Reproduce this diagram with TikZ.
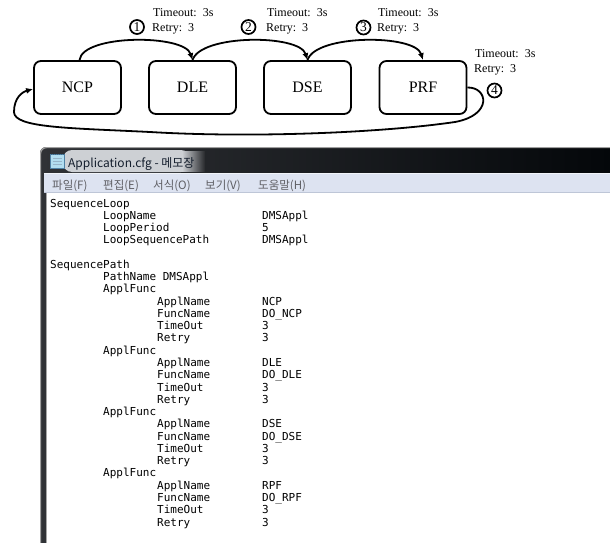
\documentclass[tikz,border=0pt]{standalone}
\usepackage{fontspec}
\setmainfont{Liberation Serif}
\newfontfamily\cfgfont{DejaVu Sans Mono}
\newfontfamily\krfont{Noto Sans CJK KR}
\usetikzlibrary{arrows.meta}
\definecolor{menubg}{RGB}{221,227,241}
\definecolor{menuline}{RGB}{190,198,215}
\definecolor{menutxt}{RGB}{95,95,100}
\definecolor{glowc}{RGB}{205,208,212}
\definecolor{titletxt}{RGB}{20,30,45}
\definecolor{iconblue}{RGB}{178,222,240}
\definecolor{iconedge}{RGB}{80,130,165}
\definecolor{barleft}{RGB}{48,50,54}
\definecolor{barright}{RGB}{4,7,10}
\begin{document}
\begin{tikzpicture}[x=1pt,y=-1pt,
  proc/.style={draw, line width=1.8pt, rounded corners=7pt, minimum width=87pt, minimum height=53pt, inner sep=0pt, font=\fontsize{16}{18}\selectfont},
  flow/.style={line width=1.8pt, -{Latex[length=7pt,width=6pt]}},
  num/.style={circle, draw, line width=1.7pt, inner sep=0pt, minimum size=14pt, font=\fontsize{13.5}{13.5}\selectfont},
  lbl/.style={anchor=base west, inner sep=0pt, font=\fontsize{12}{14}\selectfont},
  cfg/.style={anchor=base west, inner sep=0pt, font=\cfgfont\fontsize{11}{12}\selectfont},
  menu/.style={anchor=base west, inner sep=0pt, text=menutxt, font=\krfont\fontsize{11.5}{13}\selectfont}]
\useasboundingbox (0,0) rectangle (610,543);

% ---------- top diagram ----------
\node[proc] (ncp) at (77.5,87.5) {NCP};
\node[proc] (dle) at (192.5,87.5) {DLE};
\node[proc] (dse) at (307.5,87.5) {DSE};
\node[proc] (prf) at (423,87.5) {PRF};

\draw[flow] ([xshift=2pt]ncp.north) .. controls +(3,-26) and +(-8,-26) .. (dle.north);
\draw[flow] (dle.north) .. controls +(8,-26) and +(-8,-26) .. (dse.north);
\draw[flow] (dse.north) .. controls +(8,-26) and +(-8,-26) .. (prf.north);
\draw[flow] (prf.east) .. controls (488,87) and (493,115) .. (455,122)
  .. controls (380,133) and (250,138) .. (150,132)
  .. controls (70,128) and (14,128) .. (14,112)
  .. controls (14,98) and (22,92) .. ([yshift=-1.5pt]ncp.west);

\node[num] (n1) at (137,27) {1};
\node[num] (n2) at (248.5,27) {2};
\node[num] (n3) at (363.5,27.5) {3};
\node[num] (n4) at (494.5,90.5) {4};

\node[lbl] (t1) at (153,16.5) {Timeout:\ \ 3s};
\node[lbl] (r1) at (152,32) {Retry:\ \ 3};
\node[lbl] (t2) at (267,16.5) {Timeout:\ \ 3s};
\node[lbl] (r2) at (266,32) {Retry:\ \ 3};
\node[lbl] (t3) at (378,16.5) {Timeout:\ \ 3s};
\node[lbl] (r3) at (377,32) {Retry:\ \ 3};
\node[lbl] (t4) at (475,57.5) {Timeout:\ \ 3s};
\node[lbl] (r4) at (474,73) {Retry:\ \ 3};

% ---------- notepad window ----------
\shade[left color=barleft, right color=barright]
  (40,543) [rounded corners=6pt] -- (40,147) [sharp corners] -- (610,147) -- (610,543) -- cycle;
\draw[gray!75, line width=1.2pt] (40.6,543) [rounded corners=6pt] -- (40.6,147.6) [sharp corners] -- (610,147.6);
\fill[glowc, rounded corners=9pt] (63,150) rectangle (190,172);
\shade[left color=glowc, right color=barleft!80!black] (182,151) rectangle (205,171);
% icon
\fill[iconblue] (50.5,154) rectangle (64,168);
\draw[iconedge, line width=0.6pt] (50.5,154) rectangle (64,168);
\draw[iconedge!80!black, line width=1.4pt, dash pattern=on 1pt off 1pt] (51,154.5) -- (64,154.5);
\foreach \yy in {158,161,164} \draw[iconedge!60, line width=0.4pt] (52.5,\yy) -- (62,\yy);
\node[anchor=base west, inner sep=0pt, text=titletxt, font=\krfont\fontsize{12}{14}\selectfont] (title) at (68,167) {Application.cfg - 메모장};

% menu bar
\fill[menubg] (44,173) rectangle (610,193);
\draw[white!60!menubg, line width=1pt] (44,173.5) -- (610,173.5);
\draw[menuline, line width=1pt] (44,192.8) -- (610,192.8);
\node[menu] (m1) at (52,189) {파일(F)};
\node[menu] (m2) at (103,189) {편집(E)};
\node[menu] (m3) at (153,189) {서식(O)};
\node[menu] (m4) at (205,189) {보기(V)};
\node[menu] (m5) at (258,189) {도움말(H)};

% content area
\fill[white] (47,193.3) rectangle (610,543);
\draw[gray!70, line width=0.8pt] (46.6,193.3) -- (46.6,543);

\foreach \i/\d/\k in {0/0/SequenceLoop, 1/53/LoopName, 2/53/LoopPeriod, 3/53/LoopSequencePath,
  5/0/SequencePath, 6/53/PathName DMSAppl,
  7/53/ApplFunc, 8/107/ApplName, 9/107/FuncName, 10/107/TimeOut, 11/107/Retry,
  12/53/ApplFunc, 13/107/ApplName, 14/107/FuncName, 15/107/TimeOut, 16/107/Retry,
  17/53/ApplFunc, 18/107/ApplName, 19/107/FuncName, 20/107/TimeOut, 21/107/Retry,
  22/53/ApplFunc, 23/107/ApplName, 24/107/FuncName, 25/107/TimeOut, 26/107/Retry}
  \node[cfg] (k\i) at ({50+\d},{207+12.27*\i}) {\k};

\foreach \i/\v in {1/DMSAppl, 2/5, 3/DMSAppl,
  8/NCP, 9/DO\_NCP, 10/3, 11/3,
  13/DLE, 14/DO\_DLE, 15/3, 16/3,
  18/DSE, 19/DO\_DSE, 20/3, 21/3,
  23/RPF, 24/DO\_RPF, 25/3, 26/3}
  \node[cfg] (v\i) at ({262},{207+12.27*\i}) {\v};
\end{tikzpicture}
\end{document}
